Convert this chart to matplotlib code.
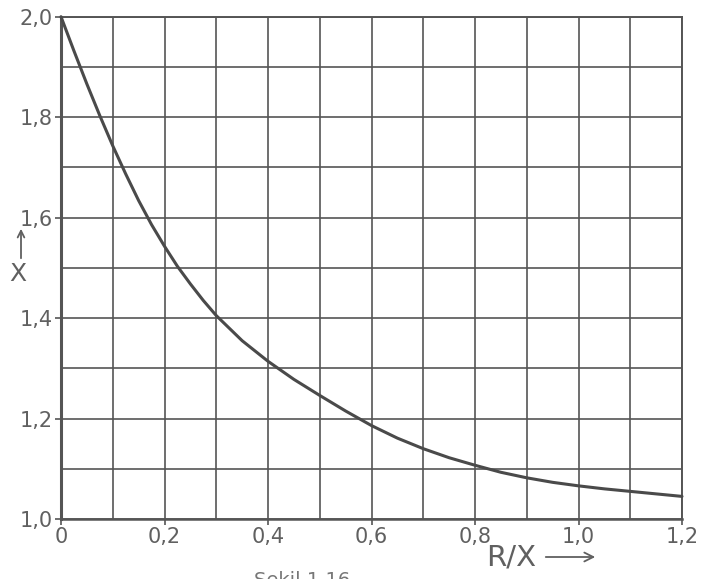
import matplotlib
matplotlib.use("Agg")
import matplotlib.pyplot as plt
from matplotlib.ticker import MultipleLocator
from matplotlib.patches import FancyArrowPatch

# Data
r_over_x = [0.0, 0.025, 0.05, 0.075, 0.1, 0.125, 0.15, 0.175, 0.2, 0.225,
            0.25, 0.275, 0.3, 0.35, 0.4, 0.45, 0.5, 0.55, 0.6, 0.65,
            0.7, 0.75, 0.8, 0.85, 0.9, 0.95, 1.0, 1.05, 1.1, 1.15, 1.2]
kappa = [2.0, 1.932, 1.866, 1.803, 1.743, 1.687, 1.634, 1.586, 1.543, 1.503,
         1.468, 1.435, 1.405, 1.355, 1.314, 1.278, 1.246, 1.215, 1.186, 1.161,
         1.140, 1.122, 1.107, 1.093, 1.082, 1.073, 1.066, 1.060, 1.055, 1.050, 1.045]

x_ticks = [0.0, 0.2, 0.4, 0.6, 0.8, 1.0, 1.2]
x_tick_labels = ["0", "0,2", "0,4", "0,6", "0,8", "1,0", "1,2"]
y_ticks = [1.0, 1.2, 1.4, 1.6, 1.8, 2.0]
y_tick_labels = ["1,0", "1,2", "1,4", "1,6", "1,8", "2,0"]

plt.rcParams['font.family'] = ['DejaVu Sans']

W, H = 702, 579
fig = plt.figure(figsize=(W / 100, H / 100), dpi=100)
ax = fig.add_axes([61 / W, 1 - 519 / H, (682 - 61) / W, (519 - 16.7) / H])

grid_col = "#555555"
text_col = "#606060"

ax.set_xlim(0, 1.2)
ax.set_ylim(1.0, 2.0)
ax.xaxis.set_minor_locator(MultipleLocator(0.1))
ax.yaxis.set_minor_locator(MultipleLocator(0.1))
ax.set_xticks(x_ticks)
ax.set_xticklabels(x_tick_labels)
ax.set_yticks(y_ticks)
ax.set_yticklabels(y_tick_labels)
ax.grid(True, which="both", color=grid_col, linewidth=1.2)
ax.set_axisbelow(True)
ax.tick_params(which="major", direction="out", length=4, width=1.2,
               color=grid_col, labelsize=15, labelcolor=text_col, pad=2)
ax.tick_params(which="minor", length=0)
for s in ax.spines.values():
    s.set_color(grid_col)
    s.set_linewidth(1.4)
ax.spines["left"].set_linewidth(2.2)
ax.spines["bottom"].set_linewidth(1.8)

ax.plot(r_over_x, kappa, color="#4a4a4a", linewidth=2.2, solid_capstyle="round",
        solid_joinstyle="round", clip_on=False, zorder=5)

# axis labels with arrows
fig.text(511 / W, 1 - 557 / H, "R/X", fontsize=21, color=text_col,
         ha="center", va="center")
fig.add_artist(FancyArrowPatch(
    (543 / W, 1 - 557 / H), (598 / W, 1 - 557 / H), transform=fig.transFigure,
    arrowstyle="->", mutation_scale=16, color=text_col, linewidth=1.3))

fig.text(18 / W, 1 - 274 / H, "X", fontsize=18, color=text_col,
         ha="center", va="center")
fig.add_artist(FancyArrowPatch(
    (21 / W, 1 - 261 / H), (21 / W, 1 - 226 / H), transform=fig.transFigure,
    arrowstyle="->", mutation_scale=12, color=text_col, linewidth=1.3))

fig.text(302 / W, 1 - 571 / H, "Şekil 1.16", fontsize=14, color="#777777",
         ha="center", va="top")

fig.savefig("out.png", dpi=100)
